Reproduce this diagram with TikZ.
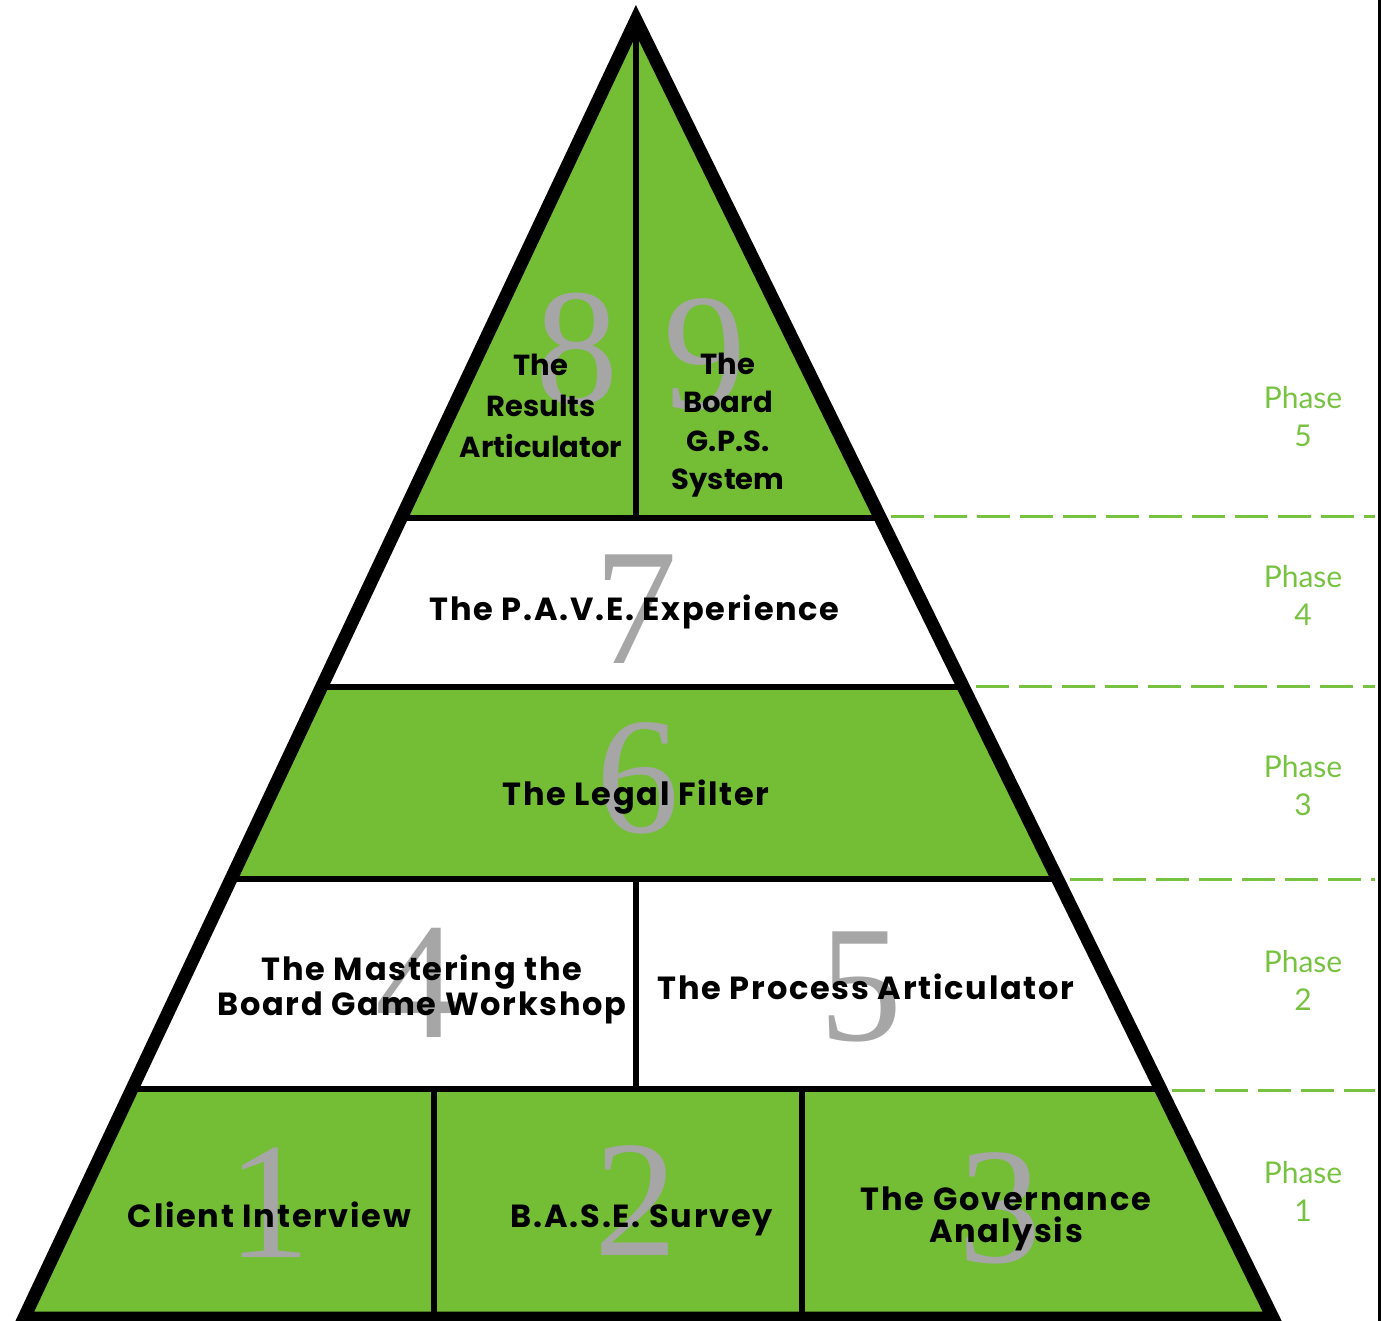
\documentclass[tikz,border=0pt]{standalone}
\usepackage{fontspec}
\setmainfont{Lato}
\newfontfamily\stagefont{Poppins}[LetterSpace=5.5]
\newfontfamily\tipfont{Poppins}
\newfontfamily\numfont{Liberation Serif}
\usetikzlibrary{calc}

\definecolor{pyrgreen}{RGB}{116,190,54}
\definecolor{numgray}{RGB}{166,166,166}
\definecolor{phasegreen}{RGB}{120,194,66}

\begin{document}
\begin{tikzpicture}[x=1pt,y=-1pt,
        every node/.style = {inner sep=0pt, align=center},
        stagetext/.style = {font=\stagefont\bfseries\fontsize{32}{#1}\selectfont},
        stagetext/.default = 40,
        tiptext/.style = {font=\tipfont\bfseries\fontsize{29}{#1}\selectfont},
        stagenum/.style = {anchor=base, text=numgray,
            font=\numfont\fontsize{166}{166}\selectfont},
        phasetext/.style = {text=phasegreen, font=\fontsize{30}{38}\selectfont},
        divider/.style = {line width=6.5pt},
        phaseline/.style = {phasegreen, line width=3pt, dash pattern=on 33pt off 10pt}]
        \useasboundingbox (0,0) rectangle (1381,1321);
        % pyramid corners and band edges
        \coordinate (apex) at (636,20);
        \coordinate (bl) at (24,1318);
        \coordinate (br) at (1273,1318);
        \coordinate (l1) at ($(apex)!0.3837!(bl)$);
        \coordinate (r1) at ($(apex)!0.3837!(br)$);
        \coordinate (l2) at ($(apex)!0.5139!(bl)$);
        \coordinate (r2) at ($(apex)!0.5139!(br)$);
        \coordinate (l3) at ($(apex)!0.6618!(bl)$);
        \coordinate (r3) at ($(apex)!0.6618!(br)$);
        \coordinate (l4) at ($(apex)!0.8236!(bl)$);
        \coordinate (r4) at ($(apex)!0.8236!(br)$);
        \coordinate (m1) at (636,518);
        \coordinate (m3) at (636,879);
        \coordinate (m4) at (636,1089);
        \coordinate (v1a) at (434,1089);
        \coordinate (v1b) at (434,1318);
        \coordinate (v2a) at (802,1089);
        \coordinate (v2b) at (802,1318);
        % green bands
        \fill[pyrgreen] (apex) -- (l1) -- (r1) -- cycle;
        \fill[pyrgreen] (l2) -- (r2) -- (r3) -- (l3) -- cycle;
        \fill[pyrgreen] (l4) -- (r4) -- (br) -- (bl) -- cycle;
        % big numbers
        \node[stagenum] (d8) at (577,403) {8};
        \node[stagenum] (d9) at (705,408) {9};
        \node[stagenum] (d7) at (636,663) {7};
        \node[stagenum] (d6) at (638,832) {6};
        \node[stagenum] (d4) at (417,1037) {4};
        \node[stagenum] (d5) at (861,1040) {5};
        \node[stagenum] (d1) at (269,1257) {1};
        \node[stagenum] (d2) at (636,1255) {2};
        \node[stagenum] (d3) at (1000,1262) {3};
        % stage names
        \node[tiptext=41] (s8) at (541,406) {The\\Results\\Articulator};
        \node[tiptext=38.5] (s9) at (728,425) {The\\Board\\G.P.S.\\System};
        \node[stagetext, anchor=base] (s7) at (634.5,620) {The P.A.V.E. Experience};
        \node[stagetext, anchor=base] (s6) at (636,805) {The Legal Filter};
        \node[stagetext=35] (s4) at (422,989) {The Mastering the\\Board Game Workshop};
        \node[stagetext, anchor=base] (s5) at (866,999) {The Process Articulator};
        \node[stagetext, anchor=base] (s1) at (269.5,1227) {Client Interview};
        \node[stagetext, anchor=base] (s2) at (642,1227) {B.A.S.E. Survey};
        \node[stagetext=32] (s3) at (1006,1219) {The Governance\\Analysis};
        % dividers and outline
        \draw[divider] (l1) -- (r1);
        \draw[divider] (l2) -- (r2);
        \draw[divider] (l3) -- (r3);
        \draw[divider] (l4) -- (r4);
        \draw[divider] (apex) -- (m1);
        \draw[divider] (m3) -- (m4);
        \draw[divider] (v1a) -- (v1b);
        \draw[divider] (v2a) -- (v2b);
        \draw[line width=13pt, line join=miter] (apex) -- (bl) -- (br) -- cycle;
        % phase guides
        \coordinate (g1a) at (891,516);
        \coordinate (g1b) at (1375,516);
        \coordinate (g2a) at (976,686);
        \coordinate (g2b) at (1375,686);
        \coordinate (g3a) at (1070,879);
        \coordinate (g3b) at (1375,879);
        \coordinate (g4a) at (1172,1090);
        \coordinate (g4b) at (1375,1090);
        \draw[phaseline] (g1a) -- (g1b);
        \draw[phaseline] (g2a) -- (g2b);
        \draw[phaseline] (g3a) -- (g3b);
        \draw[phaseline] (g4a) -- (g4b);
        \node[phasetext] (p5) at (1303,417) {Phase\\5};
        \node[phasetext] (p4) at (1303,595) {Phase\\4};
        \node[phasetext] (p3) at (1303,786) {Phase\\3};
        \node[phasetext] (p2) at (1303,980) {Phase\\2};
        \node[phasetext] (p1) at (1303,1191) {Phase\\1};
        % right edge
        \coordinate (et) at (1379.6,0);
        \coordinate (eb) at (1379.6,1321);
        \draw[line width=2.8pt] (et) -- (eb);
    \end{tikzpicture}
\end{document}
